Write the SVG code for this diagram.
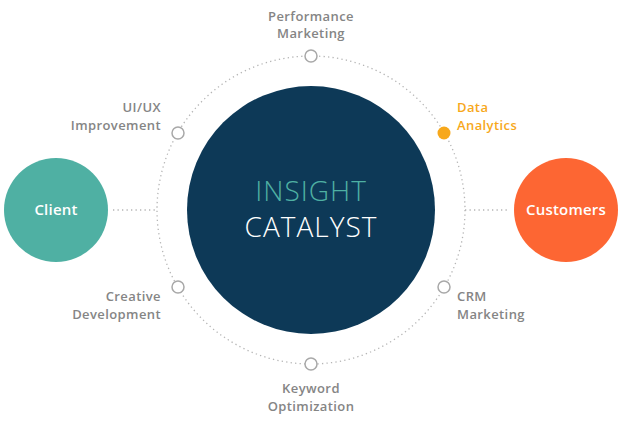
<svg xmlns="http://www.w3.org/2000/svg" width="624" height="421" viewBox="0 0 624 421">
<style>
.dot{fill:none;stroke:#b5b5b5;stroke-width:1.3;stroke-dasharray:1.3 3.2}
.sm{fill:#fff;stroke:#a8a8a8;stroke-width:1.5}
.lbl{font-family:"Open Sans","Liberation Sans",sans-serif;font-size:13px;font-weight:600;fill:#858585;letter-spacing:0.4px}
.big{font-family:"Open Sans","Liberation Sans",sans-serif;font-size:15px;font-weight:600;fill:#fff;letter-spacing:0.2px}
.ctr{font-family:"Open Sans","Liberation Sans",sans-serif;font-weight:300;font-size:28px;letter-spacing:1px}
.mid{text-anchor:middle}.end{text-anchor:end}
</style>
<rect width="624" height="421" fill="#fff"/>
<g id="connectors">
<circle class="dot" cx="311" cy="210" r="154"/>
<line class="dot" x1="113" y1="210" x2="157" y2="210"/>
<line class="dot" x1="465" y1="210" x2="508" y2="210"/>
</g>
<g id="center">
<circle cx="311" cy="210" r="124" fill="#0d3957"/>
<text x="311" y="201" class="ctr mid" fill="#4fb0a3">INSIGHT</text>
<text x="311" y="237" class="ctr mid" fill="#fff">CATALYST</text>
</g>
<g id="client">
<circle cx="56" cy="210" r="52" fill="#4fb0a3"/>
<text x="56" y="215" class="big mid">Client</text>
</g>
<g id="customers">
<circle cx="566" cy="210" r="52" fill="#fd6633"/>
<text x="566" y="215" class="big mid">Customers</text>
</g>
<g id="performance-marketing">
<circle class="sm" cx="311" cy="56" r="6"/>
<text x="311" y="21" class="lbl mid">Performance</text>
<text x="311" y="38" class="lbl mid">Marketing</text>
</g>
<g id="uiux-improvement">
<circle class="sm" cx="178" cy="133" r="6"/>
<text x="161" y="112" class="lbl end">UI/UX</text>
<text x="161" y="130" class="lbl end">Improvement</text>
</g>
<g id="data-analytics">
<circle cx="444" cy="133" r="6.5" fill="#f7a81b"/>
<text x="457" y="112" class="lbl" style="fill:#f7a81b">Data</text>
<text x="457" y="130" class="lbl" style="fill:#f7a81b">Analytics</text>
</g>
<g id="creative-development">
<circle class="sm" cx="178" cy="287" r="6"/>
<text x="161" y="301" class="lbl end">Creative</text>
<text x="161" y="319" class="lbl end">Development</text>
</g>
<g id="crm-marketing">
<circle class="sm" cx="444" cy="287" r="6"/>
<text x="457" y="301" class="lbl">CRM</text>
<text x="457" y="319" class="lbl">Marketing</text>
</g>
<g id="keyword-optimization">
<circle class="sm" cx="311" cy="364" r="6"/>
<text x="311" y="393" class="lbl mid">Keyword</text>
<text x="311" y="411" class="lbl mid">Optimization</text>
</g>
</svg>
